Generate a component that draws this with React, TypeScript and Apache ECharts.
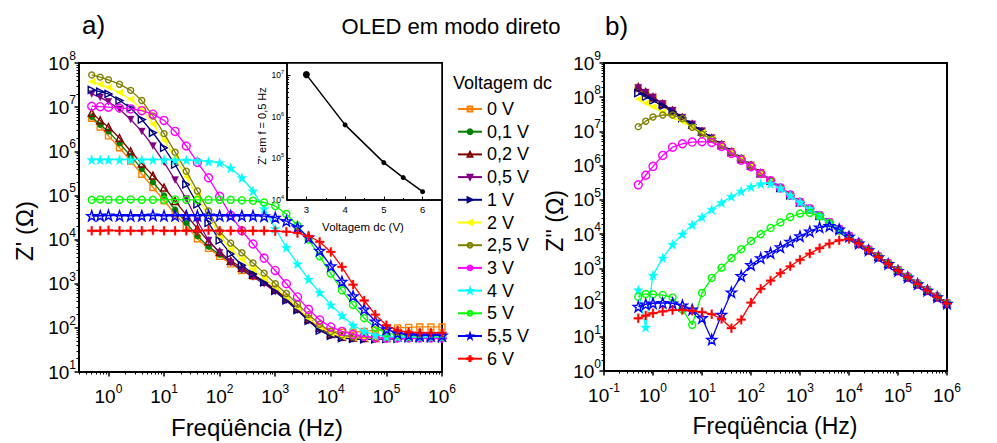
import React, { useEffect, useRef } from 'react';
import * as echarts from 'echarts';

const FF = '"Liberation Sans", Arial, Helvetica, sans-serif';

// Measurement frequencies (Hz)
const freqHz = [0.5, 0.71, 1, 1.58, 2.51, 3.98, 6.31, 10, 15.8, 25.1, 39.8, 63.1, 100, 158, 251, 398, 631, 1000, 1585, 2512, 3981, 6310, 10000, 15849, 25119, 39811, 63096, 100000, 158489, 251189, 398107, 630957, 1000000];

const voltNames = ['0 V', '0,1 V', '0,2 V', '0,5 V', '1 V', '2 V', '2,5 V', '3 V', '4 V', '5 V', '5,5 V', '6 V'];

// log10 of Z' (Ohm), panel a
const zRe_0V = [6.75, 6.55, 6.35, 6.08, 5.78, 5.48, 5.18, 4.88, 4.58, 4.30, 4.02, 3.80, 3.62, 3.45, 3.30, 3.17, 3.03, 2.87, 2.67, 2.44, 2.20, 2.02, 1.92, 1.90, 1.90, 1.92, 1.95, 1.98, 2.00, 2.01, 2.02, 2.02, 2.02];
const zRe_01V = [6.78, 6.60, 6.45, 6.18, 5.90, 5.60, 5.30, 5.00, 4.68, 4.38, 4.08, 3.84, 3.66, 3.48, 3.32, 3.18, 3.03, 2.86, 2.66, 2.43, 2.20, 1.99, 1.86, 1.80, 1.78, 1.78, 1.78, 1.78, 1.78, 1.79, 1.79, 1.79, 1.79];
const zRe_02V = [6.87, 6.70, 6.55, 6.30, 6.00, 5.72, 5.45, 5.18, 4.87, 4.56, 4.25, 3.96, 3.72, 3.52, 3.36, 3.20, 3.05, 2.87, 2.67, 2.44, 2.20, 2.00, 1.86, 1.80, 1.78, 1.77, 1.77, 1.77, 1.78, 1.78, 1.78, 1.78, 1.78];
const zRe_05V = [7.30, 7.22, 7.12, 6.95, 6.72, 6.45, 6.12, 5.75, 5.35, 4.92, 4.42, 3.98, 3.70, 3.48, 3.31, 3.15, 3.00, 2.82, 2.62, 2.40, 2.16, 1.95, 1.82, 1.77, 1.75, 1.74, 1.74, 1.75, 1.75, 1.76, 1.76, 1.76, 1.76];
const zRe_1V = [7.39, 7.35, 7.30, 7.15, 6.98, 6.72, 6.42, 6.08, 5.70, 5.25, 4.80, 4.38, 3.98, 3.68, 3.42, 3.22, 3.03, 2.84, 2.62, 2.40, 2.16, 1.94, 1.82, 1.77, 1.75, 1.74, 1.74, 1.75, 1.75, 1.76, 1.76, 1.76, 1.76];
const zRe_2V = [7.58, 7.52, 7.45, 7.33, 7.18, 6.95, 6.62, 6.25, 5.85, 5.42, 4.98, 4.52, 4.08, 3.78, 3.55, 3.33, 3.12, 2.92, 2.70, 2.46, 2.22, 2.02, 1.88, 1.80, 1.78, 1.77, 1.77, 1.77, 1.78, 1.78, 1.78, 1.78, 1.78];
const zRe_25V = [7.73, 7.68, 7.62, 7.52, 7.38, 7.15, 6.80, 6.40, 5.98, 5.55, 5.10, 4.65, 4.18, 3.92, 3.70, 3.47, 3.24, 3.00, 2.78, 2.54, 2.30, 2.08, 1.92, 1.84, 1.80, 1.79, 1.78, 1.78, 1.78, 1.78, 1.78, 1.78, 1.78];
const zRe_3V = [7.02, 7.01, 7.00, 6.98, 6.96, 6.92, 6.84, 6.70, 6.45, 6.12, 5.75, 5.40, 4.98, 4.55, 4.20, 3.90, 3.58, 3.30, 3.00, 2.70, 2.42, 2.18, 2.02, 1.92, 1.85, 1.81, 1.78, 1.77, 1.77, 1.77, 1.77, 1.77, 1.77];
const zRe_4V = [5.81, 5.81, 5.81, 5.81, 5.81, 5.81, 5.81, 5.81, 5.80, 5.80, 5.79, 5.77, 5.74, 5.62, 5.40, 5.10, 4.70, 4.25, 3.82, 3.45, 3.10, 2.80, 2.52, 2.28, 2.06, 1.92, 1.84, 1.80, 1.79, 1.79, 1.79, 1.79, 1.79];
const zRe_5V = [4.90, 4.91, 4.90, 4.90, 4.91, 4.90, 4.90, 4.90, 4.91, 4.90, 4.90, 4.90, 4.90, 4.90, 4.89, 4.88, 4.84, 4.76, 4.58, 4.32, 4.00, 3.62, 3.23, 2.85, 2.52, 2.22, 2.00, 1.88, 1.84, 1.83, 1.83, 1.83, 1.83];
const zRe_55V = [4.54, 4.54, 4.55, 4.54, 4.54, 4.54, 4.55, 4.54, 4.54, 4.54, 4.54, 4.55, 4.54, 4.54, 4.54, 4.54, 4.53, 4.50, 4.42, 4.28, 4.05, 3.75, 3.40, 3.05, 2.72, 2.42, 2.15, 1.97, 1.88, 1.84, 1.83, 1.83, 1.83];
const zRe_6V = [4.20, 4.20, 4.21, 4.20, 4.20, 4.20, 4.21, 4.20, 4.20, 4.20, 4.20, 4.21, 4.20, 4.20, 4.20, 4.20, 4.20, 4.19, 4.18, 4.15, 4.08, 3.95, 3.72, 3.38, 2.98, 2.62, 2.30, 2.06, 1.94, 1.90, 1.89, 1.89, 1.89];

// log10 of Z'' (Ohm), panel b
const zIm_0V = [8.25, 8.10, 7.97, 7.79, 7.59, 7.39, 7.19, 6.99, 6.79, 6.59, 6.39, 6.19, 5.99, 5.77, 5.55, 5.34, 5.13, 4.92, 4.73, 4.53, 4.33, 4.13, 3.93, 3.73, 3.53, 3.33, 3.13, 2.93, 2.74, 2.54, 2.35, 2.16, 1.97];
const zIm_01V = [8.27, 8.13, 7.99, 7.80, 7.60, 7.40, 7.20, 7.00, 6.80, 6.60, 6.40, 6.20, 6.00, 5.78, 5.56, 5.35, 5.14, 4.93, 4.74, 4.54, 4.34, 4.14, 3.94, 3.74, 3.54, 3.34, 3.14, 2.94, 2.75, 2.55, 2.36, 2.17, 1.98];
const zIm_02V = [8.30, 8.15, 8.00, 7.80, 7.61, 7.40, 7.21, 7.00, 6.80, 6.61, 6.40, 6.20, 6.01, 5.78, 5.56, 5.35, 5.14, 4.93, 4.74, 4.54, 4.34, 4.14, 3.94, 3.74, 3.54, 3.34, 3.14, 2.94, 2.75, 2.55, 2.36, 2.17, 1.98];
const zIm_05V = [8.28, 8.14, 8.00, 7.81, 7.61, 7.41, 7.21, 7.01, 6.81, 6.61, 6.41, 6.21, 6.01, 5.79, 5.57, 5.36, 5.15, 4.94, 4.75, 4.55, 4.35, 4.15, 3.95, 3.75, 3.55, 3.35, 3.15, 2.95, 2.76, 2.56, 2.37, 2.18, 1.99];
const zIm_1V = [8.12, 8.01, 7.90, 7.74, 7.57, 7.39, 7.20, 7.00, 6.80, 6.60, 6.40, 6.20, 6.00, 5.78, 5.56, 5.35, 5.14, 4.93, 4.74, 4.54, 4.34, 4.14, 3.94, 3.74, 3.54, 3.34, 3.14, 2.94, 2.74, 2.55, 2.35, 2.16, 1.97];
const zIm_2V = [7.95, 7.83, 7.72, 7.57, 7.42, 7.28, 7.12, 6.96, 6.78, 6.59, 6.40, 6.20, 6.00, 5.78, 5.56, 5.35, 5.14, 4.93, 4.74, 4.54, 4.34, 4.14, 3.94, 3.74, 3.54, 3.34, 3.14, 2.94, 2.75, 2.55, 2.36, 2.17, 1.98];
const zIm_25V = [7.14, 7.30, 7.42, 7.48, 7.48, 7.38, 7.12, 6.92, 6.77, 6.59, 6.40, 6.20, 6.00, 5.78, 5.56, 5.35, 5.14, 4.93, 4.74, 4.54, 4.34, 4.14, 3.94, 3.74, 3.54, 3.34, 3.14, 2.94, 2.75, 2.55, 2.36, 2.17, 1.98];
const zIm_3V = [5.44, 5.72, 5.98, 6.30, 6.54, 6.64, 6.69, 6.70, 6.68, 6.56, 6.36, 6.16, 5.97, 5.77, 5.56, 5.35, 5.14, 4.93, 4.74, 4.54, 4.34, 4.14, 3.94, 3.74, 3.54, 3.34, 3.14, 2.94, 2.75, 2.55, 2.36, 2.17, 1.98];
const zIm_4V = [2.37, 1.28, 2.80, 3.30, 3.70, 4.00, 4.27, 4.50, 4.72, 4.92, 5.10, 5.25, 5.38, 5.47, 5.48, 5.34, 5.13, 4.93, 4.74, 4.54, 4.34, 4.14, 3.94, 3.74, 3.54, 3.34, 3.14, 2.94, 2.75, 2.55, 2.36, 2.17, 1.98];
const zIm_5V = [2.17, 2.25, 2.24, 2.22, 2.15, 1.80, 1.35, 2.28, 2.72, 3.02, 3.30, 3.56, 3.80, 4.00, 4.18, 4.34, 4.50, 4.60, 4.62, 4.52, 4.32, 4.10, 3.90, 3.71, 3.52, 3.33, 3.13, 2.94, 2.75, 2.55, 2.36, 2.17, 1.98];
const zIm_55V = [1.88, 1.95, 1.98, 1.99, 1.98, 1.92, 1.80, 1.55, 0.92, 1.65, 2.30, 2.78, 3.10, 3.30, 3.45, 3.62, 3.78, 3.94, 4.08, 4.20, 4.24, 4.14, 3.93, 3.73, 3.53, 3.33, 3.13, 2.93, 2.74, 2.54, 2.35, 2.16, 1.97];
const zIm_6V = [1.54, 1.62, 1.69, 1.74, 1.78, 1.78, 1.76, 1.72, 1.66, 1.52, 1.25, 1.50, 2.00, 2.40, 2.64, 2.86, 3.06, 3.25, 3.43, 3.59, 3.72, 3.82, 3.86, 3.72, 3.53, 3.33, 3.13, 2.93, 2.74, 2.54, 2.35, 2.16, 1.97];

// inset: Z' at f = 0.5 Hz vs dc voltage
const insetVolts = [3, 4, 5, 5.5, 6];
const insetSource = [zRe_3V, zRe_4V, zRe_5V, zRe_55V, zRe_6V];

// tick label exponents
const xTicksA = [0, 1, 2, 3, 4, 5, 6];
const yTicksA = [1, 2, 3, 4, 5, 6, 7, 8];
const xTicksB = [-1, 0, 1, 2, 3, 4, 5, 6];
const yTicksB = [0, 1, 2, 3, 4, 5, 6, 7, 8, 9];
const insetXTicks = [3, 4, 5, 6];
const insetXMinor = [3.5, 4.5, 5.5];
const insetYTicks = [4, 5, 6, 7];

const reSets = [zRe_0V, zRe_01V, zRe_02V, zRe_05V, zRe_1V, zRe_2V, zRe_25V, zRe_3V, zRe_4V, zRe_5V, zRe_55V, zRe_6V];
const imSets = [zIm_0V, zIm_01V, zIm_02V, zIm_05V, zIm_1V, zIm_2V, zIm_25V, zIm_3V, zIm_4V, zIm_5V, zIm_55V, zIm_6V];

const TRI_DOWN = 'path://M0,0L10,0L5,9Z';
const TRI_RIGHT = 'path://M0,0L9,5L0,10Z';
const TRI_LEFT = 'path://M9,0L0,5L9,10Z';
const STAR = 'path://M5,0L6.18,3.38L9.76,3.45L6.9,5.62L7.94,9.05L5,7L2.06,9.05L3.1,5.62L0.24,3.45L3.82,3.38Z';
const PLUS = 'path://M4,0H6V4H10V6H6V10H4V6H0V4H4Z';

const styles = [
  { color: '#FF8000', symbol: 'rect', size: 6, open: true },
  { color: '#008000', symbol: 'circle', size: 6, open: false },
  { color: '#800000', symbol: 'triangle', size: 7, open: true },
  { color: '#800080', symbol: TRI_DOWN, size: 7, open: false },
  { color: '#000080', symbol: TRI_RIGHT, size: 7, open: true },
  { color: '#FFFF00', symbol: TRI_LEFT, size: 7, open: false },
  { color: '#808000', symbol: 'circle', size: 6, open: true },
  { color: '#FF00FF', symbol: 'circle', size: 8, open: true },
  { color: '#00FFFF', symbol: STAR, size: 10, open: false },
  { color: '#00FF00', symbol: 'circle', size: 7, open: true },
  { color: '#0000FF', symbol: STAR, size: 10, open: true },
  { color: '#FF0000', symbol: PLUS, size: 9, open: false },
];

function logMinor(lo: number, hi: number): number[] {
  const out: number[] = [];
  for (let n = Math.floor(lo) - 1; n <= Math.ceil(hi); n++) {
    for (let k = 2; k <= 9; k++) {
      const v = n + Math.log10(k);
      if (v > lo + 1e-6 && v < hi - 1e-6) out.push(v);
    }
  }
  return out;
}

const supFmt = (v: number) => `{b|10}{s|${Math.round(v)}}`;
const richMain = {
  b: { fontSize: 19, fontFamily: FF, color: '#000', lineHeight: 26 },
  s: { fontSize: 12, fontFamily: FF, color: '#000', lineHeight: 10, verticalAlign: 'top' },
};
const richInset = {
  b: { fontSize: 8.5, fontFamily: FF, color: '#000', lineHeight: 12 },
  s: { fontSize: 5.5, fontFamily: FF, color: '#000', lineHeight: 5, verticalAlign: 'top' },
};

function mainAxis(gridIndex: number, min: number, max: number, ticks: number[], pos: string, margin: number) {
  return {
    type: 'value', gridIndex, min, max, position: pos,
    axisLine: { show: true, onZero: false, lineStyle: { color: '#000', width: 2 } },
    axisTick: { show: true, inside: false, length: 4.5, lineStyle: { color: '#000', width: 1.5 }, customValues: ticks },
    axisLabel: { show: true, customValues: ticks, formatter: supFmt, rich: richMain, margin },
    splitLine: { show: false },
  };
}
function minorAxis(gridIndex: number, min: number, max: number, ticks: number[], pos: string, len: number, inside: boolean) {
  return {
    type: 'value', gridIndex, min, max, position: pos,
    axisLine: { show: false, onZero: false },
    axisTick: { show: true, inside, length: len, lineStyle: { color: '#000', width: 1 }, customValues: ticks },
    axisLabel: { show: false },
    splitLine: { show: false },
  };
}

function lineSeries(vals: number[], idx: number, xi: number, yi: number) {
  const s = styles[idx];
  return {
    type: 'line', name: voltNames[idx], xAxisIndex: xi, yAxisIndex: yi,
    data: freqHz.map((f, i) => [Math.log10(f), vals[i]]),
    symbol: s.symbol, symbolSize: s.size,
    lineStyle: { color: s.color, width: 1.3 },
    itemStyle: s.open
      ? { color: 'rgba(255,255,255,0)', borderColor: s.color, borderWidth: 1.4 }
      : { color: s.color, borderColor: s.color, borderWidth: 0.3 },
    silent: true, z: 3 + idx * 0.01,
  };
}

const X_A_MIN = -0.53;

const option: any = {
  animation: false,
  backgroundColor: '#fff',
  grid: [
    { left: 79, top: 63, width: 363, height: 309, show: true, borderColor: '#000', borderWidth: 2, backgroundColor: 'rgba(0,0,0,0)', outerBoundsMode: 'none' },
    { left: 604, top: 63, width: 343, height: 308, show: true, borderColor: '#000', borderWidth: 2, backgroundColor: 'rgba(0,0,0,0)', outerBoundsMode: 'none' },
    { left: 287, top: 63, width: 155, height: 137, show: true, borderColor: '#000', borderWidth: 1.5, backgroundColor: '#fff', outerBoundsMode: 'none' },
  ],
  xAxis: [
    mainAxis(0, X_A_MIN, 6, xTicksA, 'bottom', 11),
    minorAxis(0, X_A_MIN, 6, logMinor(X_A_MIN, 6), 'bottom', 2.5, false),
    mainAxis(1, -1, 6, xTicksB, 'bottom', 11),
    minorAxis(1, -1, 6, logMinor(-1, 6), 'bottom', 2.5, false),
    {
      type: 'value', gridIndex: 2, min: 2.5, max: 6.5, position: 'bottom',
      axisLine: { show: true, onZero: false, lineStyle: { color: '#000', width: 1.5 } },
      axisTick: { show: true, inside: true, length: 3.5, lineStyle: { color: '#000', width: 1 }, customValues: insetXTicks },
      axisLabel: { show: true, customValues: insetXTicks, fontSize: 9.5, fontFamily: FF, color: '#000', margin: 4 },
      splitLine: { show: false },
    },
    minorAxis(2, 2.5, 6.5, insetXMinor, 'bottom', 2, true),
  ],
  yAxis: [
    mainAxis(0, 1, 8, yTicksA, 'left', 3),
    minorAxis(0, 1, 8, logMinor(1, 8), 'left', 2.5, false),
    mainAxis(1, 0, 9, yTicksB, 'left', 3),
    minorAxis(1, 0, 9, logMinor(0, 9), 'left', 2.5, false),
    {
      type: 'value', gridIndex: 2, min: 4, max: 7.3, position: 'left',
      axisLine: { show: true, onZero: false, lineStyle: { color: '#000', width: 1.5 } },
      axisTick: { show: true, inside: true, length: 3.5, lineStyle: { color: '#000', width: 1 }, customValues: insetYTicks },
      axisLabel: { show: true, customValues: insetYTicks, formatter: supFmt, rich: richInset, margin: 3 },
      splitLine: { show: false },
    },
    minorAxis(2, 4, 7.3, logMinor(4, 7.3), 'left', 2, true),
  ],
  legend: {
    data: voltNames,
    orient: 'vertical', left: 452, top: 95,
    itemWidth: 24, itemHeight: 6, itemGap: 4.7,
    selectedMode: false,
    textStyle: { fontSize: 18, fontFamily: FF, color: '#000', lineHeight: 18 },
  },
  series: [
    ...reSets.map((v, i) => lineSeries(v, i, 0, 0)),
    ...imSets.map((v, i) => lineSeries(v, i, 2, 2)),
    {
      type: 'line', name: 'inset', xAxisIndex: 4, yAxisIndex: 4,
      data: insetVolts.map((v, i) => ({ value: [v, insetSource[i][0]], symbolSize: i === 0 ? 7 : 5 })),
      symbol: 'circle',
      lineStyle: { color: '#000', width: 1.5 },
      itemStyle: { color: '#000' },
      silent: true, z: 5,
    },
  ],
  graphic: [
    { type: 'text', x: 82, y: 25, style: { text: 'a)', fontSize: 26, fontFamily: FF, fill: '#000', align: 'left', verticalAlign: 'middle' } },
    { type: 'text', x: 451, y: 26, style: { text: 'OLED em modo direto', fontSize: 22, fontFamily: FF, fill: '#000', align: 'center', verticalAlign: 'middle' } },
    { type: 'text', x: 605, y: 26, style: { text: 'b)', fontSize: 26, fontFamily: FF, fill: '#000', align: 'left', verticalAlign: 'middle' } },
    { type: 'text', x: 257, y: 427, style: { text: 'Freqüência (Hz)', fontSize: 24, fontFamily: FF, fill: '#000', align: 'center', verticalAlign: 'middle' } },
    { type: 'text', x: 775, y: 426, style: { text: 'Freqüência (Hz)', fontSize: 23, fontFamily: FF, fill: '#000', align: 'center', verticalAlign: 'middle' } },
    { type: 'text', x: 24, y: 231, rotation: Math.PI / 2, style: { text: "Z' (Ω)", fontSize: 24, fontFamily: FF, fill: '#000', align: 'center', verticalAlign: 'middle' } },
    { type: 'text', x: 555, y: 221, rotation: Math.PI / 2, style: { text: "Z'' (Ω)", fontSize: 23, fontFamily: FF, fill: '#000', align: 'center', verticalAlign: 'middle' } },
    { type: 'text', x: 453, y: 83, style: { text: 'Voltagem dc', fontSize: 18, fontFamily: FF, fill: '#000', align: 'left', verticalAlign: 'middle' } },
    { type: 'text', x: 262, y: 126, rotation: Math.PI / 2, style: { text: "Z' em f = 0,5 Hz", fontSize: 11, fontFamily: FF, fill: '#000', align: 'center', verticalAlign: 'middle' } },
    { type: 'text', x: 363, y: 227, style: { text: 'Voltagem dc (V)', fontSize: 11.5, fontFamily: FF, fill: '#000', align: 'center', verticalAlign: 'middle' } },
  ],
};

export default function App() {
  const ref = useRef<HTMLDivElement>(null);
  useEffect(() => {
    document.body.style.margin = '0';
    const chart = echarts.init(ref.current as HTMLDivElement, undefined, { renderer: 'svg' });
    chart.setOption(option);
    return () => chart.dispose();
  }, []);
  return <div ref={ref} style={{ width: 997, height: 443, background: '#fff' }} />;
}
